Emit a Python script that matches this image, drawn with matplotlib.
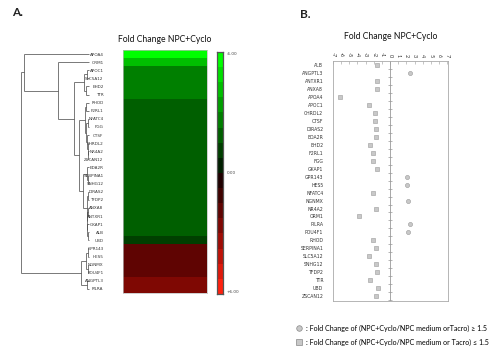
import matplotlib
matplotlib.use('Agg')
import matplotlib.pyplot as plt
import numpy as np
from matplotlib.colors import ListedColormap, BoundaryNorm
from matplotlib.lines import Line2D

# ---------------- data ----------------
genes_b = ['ALB', 'ANGPTL3', 'ANTXR1', 'ANXA8', 'APOA4', 'APOC1', 'CHRDL2', 'CTSF',
           'DIRAS2', 'EDA2R', 'EHD2', 'F2RL1', 'FGG', 'GKAP1', 'GPR143', 'HES5',
           'NFATC4', 'NGNMX', 'NR4A2', 'ORM1', 'PILRA', 'POU4F1', 'RHOD', 'SERPINA1',
           'SLC5A12', 'SNHG12', 'TFDP2', 'TTR', 'UBD', 'ZSCAN12']
fold_change = [-1.6, 2.46, -1.6, -1.6, -6.1, -2.6, -1.8, -1.8,
               -1.68, -1.75, -2.5, -2.1, -2.05, -1.6, 2.05, 2.1,
               -2.1, 2.15, -1.75, -3.8, 2.45, 2.24, -2.15, -1.75,
               -2.6, -1.7, -1.6, -2.45, -1.45, -1.75]

genes_a = ['APOA4', 'ORM1', 'APOC1', 'SLC5A12', 'EHD2', 'TTR', 'RHOD', 'F2RL1',
           'NFATC4', 'FGG', 'CTSF', 'CHRDL2', 'NR4A2', 'ZSCAN12', 'EDA2R', 'SERPINA1',
           'SNHG12', 'DIRAS2', 'TFDP2', 'ANXA8', 'ANTXR1', 'GKAP1', 'ALB', 'UBD',
           'GPR143', 'HES5', 'NGNMX', 'POU4F1', 'ANGPTL3', 'PILRA']

# hierarchical clustering tree: (left, right, merge height)
tree = (
    ('APOA4',
     ('ORM1',
      ((('APOC1', 'SLC5A12', 0.03), ('EHD2', 'TTR', 0.05), 0.07),
       ((('RHOD', 'F2RL1', 0.04),
         (('NFATC4', 'FGG', 0.02),
          ('CTSF', ('CHRDL2', ('NR4A2', 'ZSCAN12', 0.01), 0.015), 0.03), 0.04), 0.06),
        (('EDA2R', ('SERPINA1', 'SNHG12', 0.02), 0.03),
         (('DIRAS2', 'TFDP2', 0.01),
          (('ANXA8', 'ANTXR1', 0.01), ('GKAP1', ('ALB', 'UBD', 0.02), 0.025), 0.03),
          0.035), 0.09), 0.15), 0.22), 0.46), 0.957),
    ((('GPR143', 'HES5', 0.02), ('NGNMX', 'POU4F1', 0.02), 0.04),
     ('ANGPTL3', 'PILRA', 0.03), 0.116),
    1.0)

cbar_range = (-6, 6)
n_bins = 16
cbar_ticks = [-6, 0, 6]
cbar_labels = ['-6.00', '0.00', '+6.00']
x_ticks = list(range(-7, 8))
title = 'Fold Change NPC+Cyclo'
legend_labels = [': Fold Change of (NPC+Cyclo/NPC medium orTacro) \u2265 1.5',
                 ': Fold Change of (NPC+Cyclo/NPC medium or Tacro) \u2264 1.5']

FONT = ['Lato', 'DejaVu Sans']
NARROW = ['Liberation Sans Narrow', 'DejaVu Sans']
plt.rcParams['font.family'] = FONT

fc_map = dict(zip(genes_b, fold_change))
vals_a = np.array([fc_map[g] for g in genes_a])

fig = plt.figure(figsize=(5, 3.52), dpi=100)
W, H = 500, 352


def axes_px(x0, y0, x1, y1):
    return fig.add_axes([x0 / W, 1 - y1 / H, (x1 - x0) / W, (y1 - y0) / H])


# discrete green-black-red scale; each bin coloured by its outer edge
bounds = np.linspace(cbar_range[0], cbar_range[1], n_bins + 1)
bin_colors = []
for lo, hi in zip(bounds[:-1], bounds[1:]):
    edge = lo if hi <= 0 else hi
    t = abs(edge) / cbar_range[1]
    if edge < 0:
        bin_colors.append((0.0, t, 0.0))
    else:
        bin_colors.append((t, 0.13 * t * t, 0.06 * t * t))
cmap = ListedColormap(bin_colors)
norm = BoundaryNorm(bounds, cmap.N, clip=True)

# ---------------- panel A: heatmap ----------------
ax_h = axes_px(123, 50, 207, 293)
ax_h.imshow(vals_a[:, None], cmap=cmap, norm=norm, aspect='auto',
            interpolation='nearest')
ax_h.set_xticks([])
ax_h.set_yticks(range(len(genes_a)))
ax_h.set_yticklabels(genes_a, fontsize=3, family=NARROW, color='#333333')
ax_h.tick_params(axis='y', length=0, pad=14)
for s in ax_h.spines.values():
    s.set_color('#bbbbbb')
    s.set_linewidth(0.5)
ax_h.set_title(title, fontsize=6.2, pad=6, color='#111111')

# colorbar
ax_c = axes_px(217, 52, 223, 294)
centers = (bounds[:-1] + bounds[1:]) / 2
ax_c.imshow(centers[:, None], cmap=cmap, norm=norm, aspect='auto',
            interpolation='nearest', extent=(0, 1, cbar_range[1], cbar_range[0]))
ax_c.set_ylim(cbar_range[1], cbar_range[0])
ax_c.set_xticks([])
ax_c.yaxis.tick_right()
ax_c.set_yticks(cbar_ticks)
ax_c.set_yticklabels(cbar_labels, fontsize=3, family=NARROW, color='#444444')
ax_c.tick_params(axis='y', length=0, pad=2.5)
tl = ax_c.get_yticklabels()
tl[0].set_va('top')
tl[-1].set_va('bottom')
for s in ax_c.spines.values():
    s.set_color('#555555')
    s.set_linewidth(0.9)

# dendrogram
ax_d = axes_px(21, 50, 89, 293)
ax_d.set_xlim(1.0, 0.0)
ax_d.set_ylim(len(genes_a) - 0.5, -0.5)
ax_d.axis('off')
leaf_pos = {g: i for i, g in enumerate(genes_a)}


def draw(node):
    if isinstance(node, str):
        return leaf_pos[node], 0.0
    left, right, h = node
    yl, hl = draw(left)
    yr, hr = draw(right)
    kw = dict(color='#444444', lw=0.5, clip_on=False, solid_capstyle='butt')
    ax_d.plot([hl, h], [yl, yl], **kw)
    ax_d.plot([hr, h], [yr, yr], **kw)
    ax_d.plot([h, h], [yl, yr], **kw)
    return (yl + yr) / 2, h


draw(tree)

# ---------------- panel B: dot plot ----------------
ax_b = axes_px(333, 61, 448, 301)
n = len(genes_b)
rows = np.arange(n)
fc = np.array(fold_change)
neg = fc < 0
ax_b.scatter(fc[neg], rows[neg], marker='s', s=7, facecolor='#c8c8c8',
             edgecolor='#9a9a9a', linewidth=0.4, zorder=3)
ax_b.scatter(fc[~neg], rows[~neg], marker='o', s=9, facecolor='#c8c8c8',
             edgecolor='#9a9a9a', linewidth=0.4, zorder=3)
ax_b.axvline(0, color='#999999', lw=0.6, zorder=1)
ax_b.scatter(np.zeros(n), rows + 0.5, marker='_', s=6, color='#999999',
             linewidth=0.5, zorder=1)
ax_b.set_xlim(-7, 7.1)
ax_b.set_ylim(n - 0.4, -0.5)
ax_b.xaxis.tick_top()
ax_b.set_xticks(x_ticks)
ax_b.set_xticklabels([str(v) for v in x_ticks], rotation=-90, fontsize=4,
                     color='#333333')
ax_b.tick_params(axis='x', direction='in', length=2, width=0.4, color='#999999',
                 pad=3)
ax_b.set_yticks(rows)
ax_b.set_yticklabels(genes_b, fontsize=3.3, family=NARROW, color='#333333')
ax_b.tick_params(axis='y', length=0, pad=7)
for s in ax_b.spines.values():
    s.set_color('#aaaaaa')
    s.set_linewidth(0.6)
ax_b.set_title(title, fontsize=6.2, pad=16, color='#111111')

# panel letters
fig.text(12 / W, 1 - 13 / H, 'A.', fontsize=8.5, fontweight='bold', va='center',
         ha='left', color='#222222')
fig.text(300 / W, 1 - 15 / H, 'B.', fontsize=8.5, fontweight='bold', va='center',
         ha='left', color='#222222')

# legend
handles = [Line2D([], [], marker='o', ls='none', markersize=4,
                  markerfacecolor='#c8c8c8', markeredgecolor='#888888', mew=0.5),
           Line2D([], [], marker='s', ls='none', markersize=4,
                  markerfacecolor='#c8c8c8', markeredgecolor='#888888', mew=0.5)]
fig.legend(handles, legend_labels, loc='upper left',
           bbox_to_anchor=(293 / W, 1 - 321 / H), frameon=False, fontsize=5.1,
           handlelength=0.8, handletextpad=0.5, labelspacing=1.0, borderpad=0)

fig.savefig('out.png', dpi=100)
